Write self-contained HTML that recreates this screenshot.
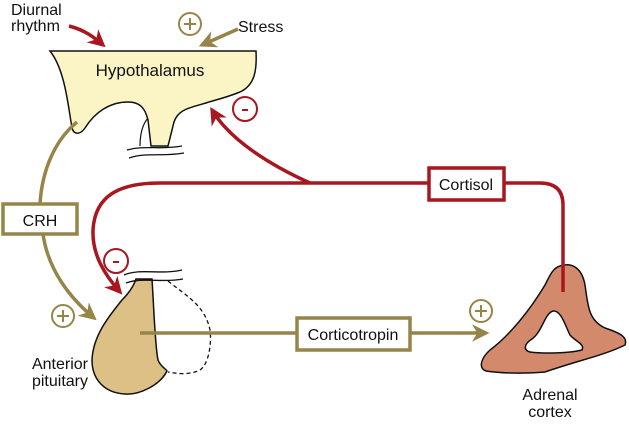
<!DOCTYPE html>
<html><head><style>body{margin:0;background:#fff}svg{display:block}text{font-family:"Liberation Sans",sans-serif;font-size:16px;fill:#111}</style></head><body>
<svg width="629" height="424" viewBox="0 0 629 424" xmlns="http://www.w3.org/2000/svg">
<defs>
<marker id="ar" viewBox="0 0 10 10" refX="8" refY="5" markerWidth="5" markerHeight="5" orient="auto"><path d="M0,0 L10,5 L0,10 L3,5z" fill="#a8161f"/></marker>
<marker id="ao" viewBox="0 0 10 10" refX="8" refY="5" markerWidth="5" markerHeight="5" orient="auto"><path d="M0,0 L10,5 L0,10 L3,5z" fill="#968548"/></marker>
</defs>
<path d="M50,51 L256,51 C257,70 255,85 240,92 C225,98 215,100 206,103 C188,108 178,110 174,122 L168,146 L151,146 L148,120 C145,108 140,102 128,102 C110,102 95,112 85,128 C80,135 74,135 72,128 C68,105 65,70 50,51Z" fill="#fbf5c6" stroke="#111" stroke-width="1.5"/>
<path d="M148,118 C142,125 140,135 140,146" fill="none" stroke="#111" stroke-width="1.2"/>
<path d="M127,150 C145,145 160,150 182,146 M129,158 C147,152 162,157 184,153" fill="none" stroke="#111" stroke-width="1.3"/>
<path d="M168,281 C185,295 205,305 210,330 C212,345 208,365 200,370 C190,375 178,374 168,372" fill="none" stroke="#111" stroke-width="1.3" stroke-dasharray="4,3"/>
<path d="M136,279 L152,279 C154,310 155,345 158,360 C160,366 167,370 167,371 C160,385 140,395 125,394 C105,393 92,380 92,360 C93,335 110,315 122,300 C130,292 134,285 136,279Z" fill="#dcc086" stroke="#111" stroke-width="1.5"/>
<path d="M124,275 C140,268 160,275 182,270 M126,283 C142,277 162,283 183,279" fill="none" stroke="#111" stroke-width="1.3"/>
<path d="M560,266 C572,262 582,268 585,285 C588,305 588,320 605,328 C620,333 628,337 625,345 C605,355 580,360 545,372 C520,374 500,373 486,371 C478,368 481,358 490,350 C510,335 530,310 545,285 C550,275 553,268 560,266Z" fill="#d38a6c" stroke="#111" stroke-width="1.5"/>
<path d="M553,311 C561,310 565,325 570,335 C576,342 585,344 582,350 C570,353 545,354 530,352 C523,350 524,344 532,339 C542,332 545,313 553,311Z" fill="#fff" stroke="#111" stroke-width="1.5"/>
<g stroke="#968548" stroke-width="3.5" fill="none">
<path d="M77,122 C55,140 42,170 40,204"/>
<path d="M43,234 C48,270 70,298 94,318" marker-end="url(#ao)"/>
<path d="M140,333 L486,333" marker-end="url(#ao)"/>
<path d="M238,29 L202,45" marker-end="url(#ao)"/>
</g>
<rect x="3" y="204" width="74" height="30" fill="#fff" stroke="#968548" stroke-width="3.5"/>
<rect x="297" y="318" width="113" height="32" fill="#fff" stroke="#968548" stroke-width="3.5"/>
<g fill="none" stroke="#968548" stroke-width="2"><circle cx="190" cy="24" r="11"/><circle cx="63" cy="316" r="11"/><circle cx="481" cy="311" r="11"/></g>
<g stroke="#968548" stroke-width="2"><path d="M184,24h12M190,18v12M57,316h12M63,310v12M475,311h12M481,305v12"/></g>
<g stroke="#a8161f" stroke-width="3.5" fill="none">
<path d="M69,26 C85,30 95,38 103,45" marker-end="url(#ar)"/>
<path d="M563,292 L563,205 C563,190 555,183 540,183 L160,183 C120,183 95,195 93,230 C92,255 105,275 120,292" marker-end="url(#ar)"/>
<path d="M310,183 C270,165 230,140 212,110" marker-end="url(#ar)"/>
</g>
<rect x="429" y="168" width="75" height="32" fill="#fff" stroke="#a8161f" stroke-width="3.5"/>
<g fill="none" stroke="#a8161f" stroke-width="2"><circle cx="245" cy="109" r="12"/><circle cx="116" cy="261" r="12"/></g>
<g stroke="#a8161f" stroke-width="2"><path d="M242,110h6M113,262h6"/></g>
<text x="11" y="15">Diurnal</text><text x="11" y="31">rhythm</text>
<text x="238" y="32">Stress</text>
<text x="150" y="76" text-anchor="middle" style="font-size:17px">Hypothalamus</text>
<text x="40" y="226" text-anchor="middle">CRH</text>
<text x="466" y="190" text-anchor="middle">Cortisol</text>
<text x="353" y="340" text-anchor="middle">Corticotropin</text>
<text x="88" y="369" text-anchor="end">Anterior</text><text x="88" y="386" text-anchor="end">pituitary</text>
<text x="550" y="400" text-anchor="middle">Adrenal</text><text x="550" y="417" text-anchor="middle">cortex</text>
</svg>
</body></html>
